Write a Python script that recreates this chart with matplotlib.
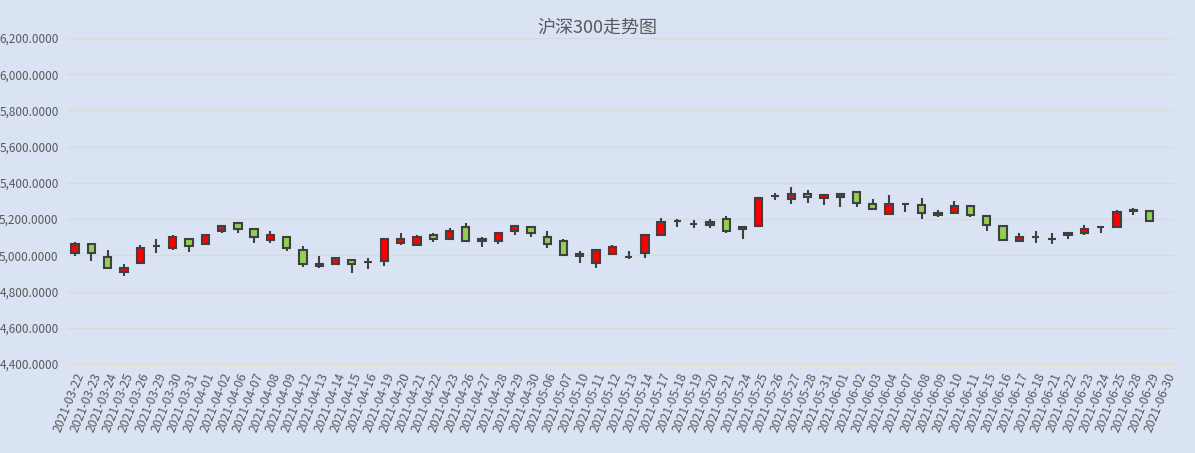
import numpy as np
import matplotlib
matplotlib.use("Agg")
import matplotlib.pyplot as plt
from matplotlib.ticker import FuncFormatter, FixedLocator

plt.rcParams['font.family'] = ['Noto Sans CJK SC', 'DejaVu Sans']

# ---------------------------------
# Data
# ---------------------------------

dates = [
    "2021-03-22", "2021-03-23", "2021-03-24", "2021-03-25", "2021-03-26",
    "2021-03-29", "2021-03-30", "2021-03-31", "2021-04-01", "2021-04-02",
    "2021-04-06", "2021-04-07", "2021-04-08", "2021-04-09", "2021-04-12",
    "2021-04-13", "2021-04-14", "2021-04-15", "2021-04-16", "2021-04-19",
    "2021-04-20", "2021-04-21", "2021-04-22", "2021-04-23", "2021-04-26",
    "2021-04-27", "2021-04-28", "2021-04-29", "2021-04-30", "2021-05-06",
    "2021-05-07", "2021-05-10", "2021-05-11", "2021-05-12", "2021-05-13",
    "2021-05-14", "2021-05-17", "2021-05-18", "2021-05-19", "2021-05-20",
    "2021-05-21", "2021-05-24", "2021-05-25", "2021-05-26", "2021-05-27",
    "2021-05-28", "2021-05-31", "2021-06-01", "2021-06-02", "2021-06-03",
    "2021-06-04", "2021-06-07", "2021-06-08", "2021-06-09", "2021-06-10",
    "2021-06-11", "2021-06-15", "2021-06-16", "2021-06-17", "2021-06-18",
    "2021-06-21", "2021-06-22", "2021-06-23", "2021-06-24", "2021-06-25",
    "2021-06-28", "2021-06-29", "2021-06-30",
]

open_ = [
    5011, 5060, 4989, 4907, 4956, 5049, 5042, 5088, 5060, 5132,
    5181, 5143, 5082, 5104, 5027, 4951, 4951, 4973, 4965, 4967,
    5066, 5055, 5115, 5093, 5159, 5077, 5077, 5132, 5159, 5099,
    5077, 5005, 4956, 5005, 4990, 5011, 5115, 5189, 5173, 5170,
    5203, 5143, 5164, 5326, 5312, 5340, 5318, 5323, 5351, 5285,
    5230, 5284, 5280, 5225, 5236, 5274, 5219, 5164, 5077, 5099,
    5089, 5110, 5126, 5156, 5159, 5247, 5247, np.nan,
]

close = [
    5060, 5011, 4929, 4929, 5038, 5052, 5099, 5049, 5110, 5164,
    5143, 5104, 5115, 5038, 4951, 4940, 4984, 4951, 4962, 5088,
    5088, 5099, 5093, 5137, 5077, 5093, 5121, 5164, 5126, 5060,
    5000, 4995, 5027, 5044, 4992, 5110, 5186, 5191, 5175, 5186,
    5137, 5159, 5318, 5328, 5340, 5323, 5334, 5340, 5290, 5258,
    5285, 5282, 5236, 5236, 5274, 5225, 5170, 5082, 5104, 5101,
    5091, 5126, 5148, 5158, 5241, 5249, 5192, np.nan,
]

high = [
    5071, 5068, 5027, 4951, 5055, 5088, 5110, 5090, 5115, 5170,
    5181, 5143, 5132, 5104, 5049, 4995, 4989, 4973, 4984, 5090,
    5121, 5110, 5121, 5153, 5181, 5099, 5121, 5170, 5164, 5137,
    5093, 5022, 5033, 5055, 5022, 5115, 5208, 5203, 5197, 5203,
    5219, 5159, 5323, 5345, 5378, 5362, 5334, 5345, 5351, 5312,
    5334, 5285, 5318, 5252, 5301, 5274, 5225, 5164, 5126, 5132,
    5126, 5126, 5170, 5164, 5252, 5263, 5247, np.nan,
]

low = [
    4998, 4967, 4925, 4885, 4954, 5011, 5031, 5016, 5058, 5121,
    5126, 5066, 5066, 5022, 4934, 4929, 4945, 4901, 4923, 4943,
    5057, 5049, 5071, 5088, 5077, 5044, 5060, 5115, 5099, 5038,
    4998, 4956, 4929, 5000, 4978, 4984, 5115, 5159, 5153, 5153,
    5126, 5093, 5164, 5307, 5285, 5290, 5280, 5269, 5269, 5258,
    5225, 5241, 5203, 5214, 5230, 5214, 5137, 5077, 5077, 5066,
    5060, 5088, 5110, 5121, 5159, 5225, 5186, np.nan,
]

# ---------------------------------
# Plot
# ---------------------------------

bg = "#DAE3F3"
text_color = "#595959"
edge_color = "#404040"

fig = plt.figure(figsize=(11.95, 4.53), dpi=100, facecolor=bg)
ax = fig.add_axes([0.056, 0.1965, 0.9264, 0.7195], facecolor=bg)

x = np.arange(len(dates))
o = np.array(open_, dtype=float)
c = np.array(close, dtype=float)
h = np.array(high, dtype=float)
l = np.array(low, dtype=float)

valid = ~np.isnan(o)
up = valid & (c >= o)
down = valid & (c < o)

# wicks
ax.vlines(x[valid], l[valid], h[valid], color=edge_color, linewidth=1.5, zorder=2)

# bodies
body_bottom = np.minimum(o, c)
body_height = np.abs(c - o)

ax.bar(x[up], body_height[up], bottom=body_bottom[up], width=0.45,
       color="#FF0000", edgecolor=edge_color, linewidth=1.5, zorder=3)
ax.bar(x[down], body_height[down], bottom=body_bottom[down], width=0.45,
       color="#92D050", edgecolor=edge_color, linewidth=1.5, zorder=3)

ax.set_xlim(-0.5, len(dates) - 0.5)
ax.set_ylim(4400, 6200)
ax.set_yticks(np.arange(4400, 6201, 200))
ax.yaxis.set_major_formatter(FuncFormatter(lambda v, p: f"{v:,.4f}"))

ax.set_xticks(x)
ax.set_xticklabels(dates, rotation=68, ha="right", rotation_mode="anchor")
ax.xaxis.set_minor_locator(FixedLocator(np.arange(-0.5, len(dates), 1.0)))

ax.tick_params(axis="x", which="major", length=0, labelsize=8.8,
               colors=text_color, pad=5)
ax.tick_params(axis="x", which="minor", length=4, color="#E8DCC8")
ax.tick_params(axis="y", length=0, labelsize=8.5, colors=text_color, pad=6)

ax.grid(axis="y", color="#D9D9D9", linewidth=1)
ax.set_axisbelow(True)

for side in ["top", "right", "left"]:
    ax.spines[side].set_visible(False)
ax.spines["bottom"].set_color("#E8DCC8")

fig.text(0.5, 0.94, "沪深300走势图", ha="center", va="center",
         fontsize=13, color=text_color)

fig.savefig("out.png", dpi=100, facecolor=bg)
